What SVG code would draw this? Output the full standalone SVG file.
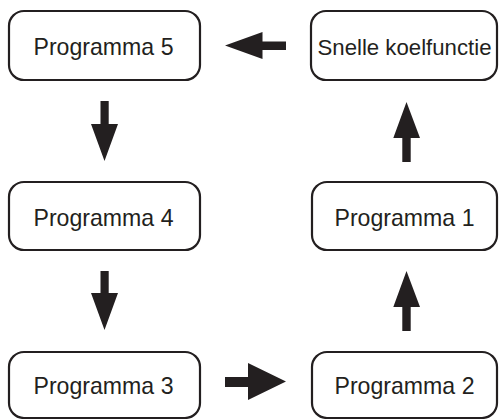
<svg xmlns="http://www.w3.org/2000/svg" width="499" height="419" viewBox="0 0 499 419">
<style>
.box{fill:#fff;stroke:#231f20;stroke-width:2.2}
.lbl{font-family:"Liberation Sans",Arial,sans-serif;font-size:24px;fill:#231f20;text-anchor:middle}
.arr{fill:#231f20}
</style>
<rect width="499" height="419" fill="#fff"/>
<g id="node-p5"><rect class="box" x="9" y="11" width="191" height="69" rx="15"/><text class="lbl" x="103.5" y="55" textLength="140" lengthAdjust="spacingAndGlyphs">Programma 5</text></g>
<g id="node-snel"><rect class="box" x="311" y="11" width="186" height="69" rx="15"/><text class="lbl" x="404.5" y="55" style="font-size:22px" textLength="174" lengthAdjust="spacingAndGlyphs">Snelle koelfunctie</text></g>
<g id="node-p4"><rect class="box" x="9" y="182" width="191" height="68" rx="15"/><text class="lbl" x="103.5" y="226" textLength="140" lengthAdjust="spacingAndGlyphs">Programma 4</text></g>
<g id="node-p1"><rect class="box" x="312" y="182" width="185" height="68" rx="15"/><text class="lbl" x="404.5" y="226" textLength="140" lengthAdjust="spacingAndGlyphs">Programma 1</text></g>
<g id="node-p3"><rect class="box" x="9" y="352" width="191" height="66" rx="15"/><text class="lbl" x="103.5" y="394" textLength="140" lengthAdjust="spacingAndGlyphs">Programma 3</text></g>
<g id="node-p2"><rect class="box" x="312" y="352" width="185" height="66" rx="15"/><text class="lbl" x="404.5" y="394" textLength="140" lengthAdjust="spacingAndGlyphs">Programma 2</text></g>
<g id="connectors">
<polygon class="arr" points="286,41.5 262.5,41.5 262.5,32 225,45.5 262.5,59 262.5,50 286,50"/>
<polygon class="arr" points="100.5,101 108.7,101 108.7,124 118,124 104.5,161 91,124 100.5,124"/>
<polygon class="arr" points="100.5,271 108.7,271 108.7,293 118,293 104.5,330 91,293 100.5,293"/>
<polygon class="arr" points="225,377 248,377 248,363 286,381.5 248,400 248,387 225,387"/>
<polygon class="arr" points="402.3,331 410.7,331 410.7,307 420,307 406.5,271 393.3,307 402.3,307"/>
<polygon class="arr" points="402.3,162 410.7,162 410.7,138 420,138 406.5,102 393.3,138 402.3,138"/>
</g>
</svg>
